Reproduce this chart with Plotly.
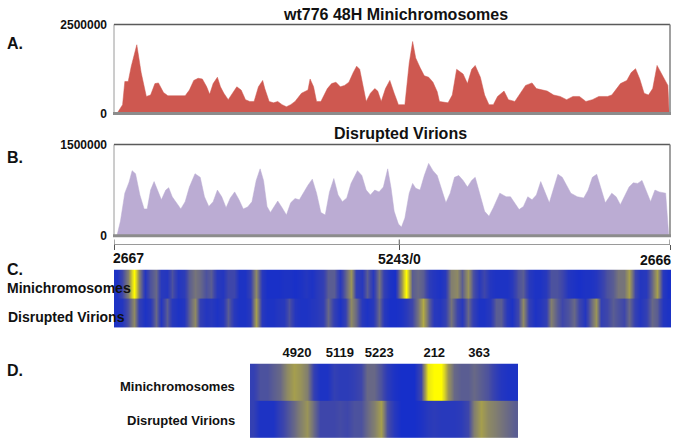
import plotly.graph_objects as go

W, H = 676, 448
def px(x):
    return x / W
def py(y):
    return 1 - y / H

NARROW = "Liberation Sans Narrow, Arial Narrow, Liberation Sans, Arial, sans-serif"
SANS = "Liberation Sans, Arial, sans-serif"
INK = "#111111"

# ---------------- data ----------------
GENOME = 5243  # rotated map: 2667 ... 5243/0 ... 2666

mini_pos = [28, 81, 102, 134, 163, 215, 256, 305, 345, 386,
            419, 467, 508, 671, 711, 752, 793, 833, 874, 902,
            935, 975, 1004, 1036, 1077, 1118, 1158, 1199, 1240, 1280,
            1321, 1362, 1402, 1422, 1463, 1504, 1544, 1585, 1626, 1666,
            1707, 1768, 1829, 1849, 1882, 1910, 1951, 2012, 2052, 2093,
            2134, 2174, 2215, 2256, 2288, 2317, 2357, 2378, 2418, 2459,
            2487, 2520, 2560, 2601, 2642, 2682, 2743, 2784, 2816, 2845,
            2886, 2926, 2967, 3008, 3048, 3069, 3150, 3190, 3231, 3292,
            3333, 3373, 3406, 3455, 3495, 3536, 3577, 3617, 3678, 3719,
            3780, 3820, 3881, 3942, 3983, 4044, 4085, 4146, 4207, 4268,
            4328, 4389, 4450, 4511, 4572, 4654, 4694, 4776, 4836, 4877,
            4918, 4958, 4999, 5040, 5080, 5121, 5182, 5223, 5235]
# reads in millions
mini_val = [0, 0.25, 0.90, 0.90, 1.33, 1.93, 1.15, 0.48, 0.52, 0.84,
            0.86, 0.59, 0.50, 0.50, 0.66, 0.93, 0.99, 0.97, 0.75, 0.54,
            0.84, 1.02, 0.75, 0.57, 0.39, 0.57, 0.75, 0.66, 0.39, 0.34,
            0.34, 0.75, 0.93, 0.70, 0.34, 0.30, 0.34, 0.25, 0.19, 0.25,
            0.34, 0.57, 0.66, 0.97, 0.75, 0.34, 0.34, 0.70, 0.84, 0.88,
            0.75, 0.79, 0.88, 1.15, 1.33, 1.24, 0.61, 0.34, 0.57, 0.70,
            0.63, 0.34, 0.70, 0.93, 0.57, 0.25, 0.25, 1.42, 2.02, 1.56,
            1.29, 1.06, 1.02, 0.88, 0.61, 0.34, 0.30, 0.52, 1.24, 1.11,
            0.84, 1.24, 1.35, 1.02, 0.52, 0.25, 0.25, 0.48, 0.63, 0.39,
            0.34, 0.52, 0.79, 0.86, 0.70, 0.66, 0.63, 0.52, 0.48, 0.39,
            0.48, 0.48, 0.34, 0.39, 0.48, 0.48, 0.52, 0.84, 0.93, 1.15,
            1.26, 0.97, 0.57, 0.52, 0.70, 1.35, 1.02, 0.79, 0]

vir_pos = [28, 61, 102, 142, 171, 203, 244, 284, 313, 345,
           378, 419, 447, 488, 516, 549, 589, 630, 671, 711,
           764, 813, 853, 894, 935, 975, 1016, 1057, 1097, 1138,
           1179, 1219, 1260, 1301, 1341, 1378, 1410, 1443, 1475, 1504,
           1544, 1585, 1626, 1666, 1707, 1748, 1788, 1829, 1870, 1910,
           1951, 1992, 2032, 2073, 2113, 2154, 2195, 2235, 2296, 2337,
           2378, 2418, 2459, 2499, 2540, 2581, 2613, 2642, 2682, 2711,
           2743, 2784, 2816, 2845, 2886, 2926, 2967, 3008, 3048, 3089,
           3130, 3170, 3211, 3251, 3292, 3333, 3373, 3406, 3455, 3495,
           3536, 3577, 3638, 3698, 3739, 3780, 3820, 3861, 3902, 3942,
           3983, 4024, 4064, 4105, 4146, 4186, 4227, 4268, 4308, 4369,
           4430, 4471, 4511, 4552, 4593, 4633, 4694, 4735, 4775, 4816,
           4857, 4897, 4938, 4979, 5019, 5060, 5101, 5141, 5202, 5231]
vir_val = [0, 0.24, 0.70, 0.88, 1.07, 1.02, 0.67, 0.44, 0.44, 0.75,
           0.89, 0.70, 0.59, 0.75, 0.79, 0.64, 0.54, 0.44, 0.56, 0.80,
           1.02, 0.96, 0.64, 0.48, 0.56, 0.75, 0.64, 0.46, 0.62, 0.72,
           0.59, 0.44, 0.47, 0.56, 0.91, 1.10, 0.91, 0.48, 0.38, 0.46,
           0.57, 0.46, 0.34, 0.54, 0.61, 0.59, 0.72, 0.83, 0.93, 0.70,
           0.38, 0.34, 0.72, 0.94, 0.67, 0.56, 0.62, 0.86, 1.07, 0.99,
           0.75, 0.67, 0.75, 0.72, 0.80, 1.10, 0.78, 0.40, 0.19, 0.14,
           0.29, 0.70, 0.86, 0.78, 0.75, 0.99, 1.19, 1.07, 0.99, 0.78,
           0.54, 0.70, 0.96, 0.99, 0.91, 0.80, 0.91, 0.96, 0.67, 0.40,
           0.32, 0.46, 0.70, 0.64, 0.64, 0.54, 0.43, 0.48, 0.64, 0.59,
           0.67, 0.89, 0.72, 0.54, 0.78, 1.01, 0.96, 0.83, 0.70, 0.64,
           0.62, 0.75, 0.96, 1.01, 0.78, 0.54, 0.70, 0.64, 0.51, 0.67,
           0.80, 0.87, 0.86, 0.91, 0.72, 0.56, 0.75, 0.72, 0.70, 0]

mini_ytick = ["0", "2500000"]
vir_ytick = ["0", "1500000"]

ruler_pos = [0, 2690, 5243]
ruler_text = ["2667", "5243/0", "2666"]

# panel C heat rows (100 bins across the whole map), relative intensity 0..1
heatC_mini = [0.05, 0.2, 0.45, 1.0, 0.45, 0.08, 0.25, 0.35, 0.1, 0.08,
              0.25, 0.08, 0.12, 0.3, 0.4, 0.35, 0.25, 0.3, 0.1, 0.08,
              0.2, 0.2, 0.05, 0.05, 0.15, 0.5, 0.1, 0.03, 0.03, 0.03,
              0.05, 0.05, 0.03, 0.05, 0.08, 0.05, 0.1, 0.15, 0.3, 0.3,
              0.1, 0.3, 0.55, 0.15, 0.1, 0.3, 0.1, 0.4, 0.15, 0.05,
              0.03, 0.5, 1.0, 0.3, 0.35, 0.3, 0.12, 0.08, 0.05, 0.1,
              0.45, 0.5, 0.3, 0.55, 0.25, 0.1, 0.2, 0.08, 0.05, 0.05,
              0.05, 0.1, 0.25, 0.3, 0.1, 0.05, 0.05, 0.1, 0.25, 0.25,
              0.2, 0.08, 0.05, 0.03, 0.05, 0.05, 0.08, 0.15, 0.25, 0.3,
              0.4, 0.4, 0.6, 0.2, 0.08, 0.1, 0.35, 0.6, 0.1, 0.03]
heatC_vir = [0.05, 0.08, 0.25, 0.5, 0.15, 0.05, 0.1, 0.35, 0.08, 0.3,
             0.1, 0.05, 0.08, 0.3, 0.5, 0.15, 0.08, 0.1, 0.05, 0.1,
             0.3, 0.1, 0.05, 0.05, 0.1, 0.6, 0.1, 0.05, 0.05, 0.08,
             0.1, 0.25, 0.08, 0.05, 0.05, 0.08, 0.1, 0.15, 0.35, 0.15,
             0.05, 0.15, 0.5, 0.35, 0.1, 0.05, 0.1, 0.35, 0.1, 0.03,
             0.03, 0.05, 0.1, 0.2, 0.4, 0.65, 0.3, 0.1, 0.08, 0.15,
             0.4, 0.2, 0.1, 0.35, 0.15, 0.05, 0.05, 0.1, 0.3, 0.3,
             0.1, 0.05, 0.2, 0.5, 0.15, 0.05, 0.08, 0.15, 0.45, 0.3,
             0.2, 0.25, 0.35, 0.2, 0.08, 0.3, 0.55, 0.15, 0.2, 0.3,
             0.25, 0.2, 0.35, 0.15, 0.08, 0.15, 0.35, 0.3, 0.08, 0.05]

# panel D: zoom on the region around the origin (40 bins)
heatD_mini = [0.15, 0.25, 0.25, 0.3, 0.35, 0.5, 0.6, 0.55, 0.45, 0.15,
              0.05, 0.05, 0.15, 0.12, 0.12, 0.15, 0.2, 0.35, 0.35, 0.25,
              0.12, 0.05, 0.02, 0.02, 0.02, 0.2, 0.9, 1.0, 1.0, 0.55,
              0.35, 0.3, 0.3, 0.35, 0.3, 0.25, 0.15, 0.08, 0.05, 0.05]
heatD_vir = [0.15, 0.05, 0.05, 0.05, 0.15, 0.25, 0.35, 0.45, 0.55, 0.35,
             0.2, 0.2, 0.2, 0.22, 0.2, 0.25, 0.25, 0.35, 0.45, 0.6,
             0.25, 0.1, 0.02, 0.02, 0.02, 0.05, 0.1, 0.12, 0.1, 0.1,
             0.1, 0.12, 0.2, 0.45, 0.6, 0.5, 0.45, 0.4, 0.35, 0.3]
heatD_ticks = [6.5, 12.9, 18.8, 27.0, 33.7]
heatD_labels = ["4920", "5119", "5223", "212", "363"]

row_labels = ["Minichromosomes", "Disrupted Virions"]

# ---------------- figure ----------------
RED = "rgb(206,88,80)"
LAV = "rgb(187,172,211)"
HEAT = [[0.0, "rgb(18,44,205)"], [0.2, "rgb(62,70,170)"], [0.4, "rgb(118,116,122)"],
        [0.6, "rgb(165,158,78)"], [0.8, "rgb(215,210,40)"], [1.0, "rgb(255,252,0)"]]

fig = go.Figure()

fig.add_trace(go.Scatter(x=mini_pos, y=mini_val, mode="lines", fill="tozeroy",
                         line=dict(color=RED, width=0.5), fillcolor=RED,
                         xaxis="x", yaxis="y", hoverinfo="skip", showlegend=False))
fig.add_trace(go.Scatter(x=vir_pos, y=vir_val, mode="lines", fill="tozeroy",
                         line=dict(color=LAV, width=0.5), fillcolor=LAV,
                         xaxis="x2", yaxis="y2", hoverinfo="skip", showlegend=False))

def heat(row, xa, ya, ypair):
    n = len(row)
    return go.Heatmap(z=[row, row], x=list(range(n)), y=ypair, zmin=0, zmax=1,
                      colorscale=HEAT, zsmooth="best", showscale=False,
                      xaxis=xa, yaxis=ya, hoverinfo="skip")

fig.add_trace(heat(heatC_mini, "x3", "y3", [1.24, 1.76]))
fig.add_trace(heat(heatC_vir, "x3", "y3", [0.25, 0.75]))
fig.add_trace(heat(heatD_mini, "x4", "y4", [1.24, 1.76]))
fig.add_trace(heat(heatD_vir, "x4", "y4", [0.25, 0.75]))

hidden = dict(showgrid=False, zeroline=False, showline=False, showticklabels=False, ticks="")
ytickfont = dict(family=NARROW, size=12, color=INK)

fig.update_layout(
    width=W, height=H, margin=dict(l=0, r=0, t=0, b=0),
    paper_bgcolor="white", plot_bgcolor="rgba(0,0,0,0)", showlegend=False,
    xaxis=dict(domain=[px(114), px(670)], range=[0, GENOME], anchor="y", **hidden),
    yaxis=dict(domain=[py(110), py(18)], range=[0, 2.5], anchor="x",
               showgrid=False, zeroline=False, showline=False, ticks="",
               tickvals=[0, 2.5], ticktext=["<b>%s</b>" % t for t in mini_ytick],
               tickfont=ytickfont, ticklabelstandoff=6),
    xaxis2=dict(domain=[px(114), px(670)], range=[0, GENOME], anchor="free",
                position=py(245), showgrid=False, zeroline=False, showline=True,
                linecolor="#9a9a9a", linewidth=1, ticks="outside", ticklen=5,
                tickwidth=1, tickcolor="#555555", tickvals=ruler_pos,
                showticklabels=False),
    yaxis2=dict(domain=[py(236), py(142)], range=[0, 1.5], anchor="x2",
                showgrid=False, zeroline=False, showline=False, ticks="",
                tickvals=[0, 1.5], ticktext=["<b>%s</b>" % t for t in vir_ytick],
                tickfont=ytickfont, ticklabelstandoff=6),
    xaxis3=dict(domain=[px(114), px(671)], range=[-0.5, len(heatC_mini) - 0.5],
                anchor="y3", **hidden),
    yaxis3=dict(domain=[py(331), py(271)], range=[0, 2], anchor="x3", **hidden),
    xaxis4=dict(domain=[px(250), px(518)], range=[-0.5, len(heatD_mini) - 0.5],
                anchor="y4", side="top", showgrid=False, zeroline=False, showline=False,
                ticks="", tickvals=heatD_ticks,
                ticktext=["<b>%s</b>" % t for t in heatD_labels],
                tickfont=dict(family=NARROW, size=13, color=INK), ticklabelstandoff=3),
    yaxis4=dict(domain=[py(445), py(368)], range=[0, 2], anchor="x4", **hidden),
)

shapes = []
for top, bot in [(18, 110), (142, 236)]:
    shapes.append(dict(type="line", xref="paper", yref="paper", x0=px(114), x1=px(114),
                       y0=py(top), y1=py(bot), line=dict(color="#9a9a9a", width=1)))
    shapes.append(dict(type="line", xref="paper", yref="paper", x0=px(114), x1=px(670),
                       y0=py(top), y1=py(top), line=dict(color="#5a5a5a", width=1.5)))
    shapes.append(dict(type="line", xref="paper", yref="paper", x0=px(670), x1=px(670),
                       y0=py(top), y1=py(bot), line=dict(color="#808080", width=1.5)))
    shapes.append(dict(type="line", xref="paper", yref="paper", x0=px(113), x1=px(671),
                       y0=py(bot), y1=py(bot), line=dict(color="#8c8c8c", width=3)))
for p in ruler_pos:
    shapes.append(dict(type="line", xref="x2", yref="paper", x0=p, x1=p,
                       y0=py(245), y1=py(240), line=dict(color="#555555", width=1)))
fig.update_layout(shapes=shapes)

ann = []
def text(x, y, s, size, family=NARROW, xanchor="center"):
    ann.append(dict(x=px(x), y=py(y), xref="paper", yref="paper", text="<b>%s</b>" % s,
                    showarrow=False, xanchor=xanchor, yanchor="middle",
                    font=dict(family=family, size=size, color=INK)))

text(395, 8, "wt776 48H Minichromosomes", 16)
text(400, 131, "Disrupted Virions", 16)
for lab, yy in [("A.", 38), ("B.", 155), ("C.", 271), ("D.", 375)]:
    text(5, yy, lab, 16, SANS, "left")
text(111, 259, ruler_text[0], 14, xanchor="left")
text(399, 260, ruler_text[1], 14)
text(673, 261, ruler_text[2], 14, xanchor="right")
text(5, 290, row_labels[0], 14, xanchor="left")
text(6, 320, row_labels[1], 14, xanchor="left")
text(237, 392, row_labels[0], 13, xanchor="right")
text(237, 427, row_labels[1], 13, xanchor="right")
fig.update_layout(annotations=ann)

fig.write_html("out.html", config={"displayModeBar": False},
               post_script="document.body.style.margin='0';document.body.style.padding='0';")
